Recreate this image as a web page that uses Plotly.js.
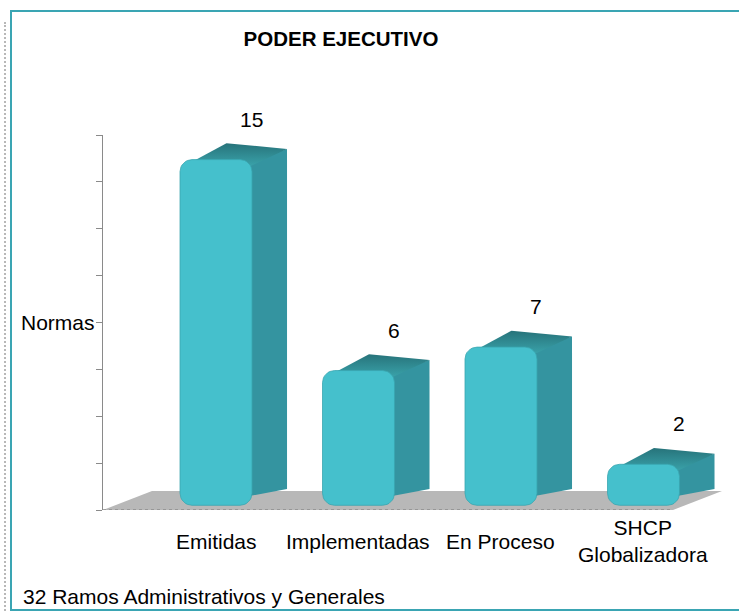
<!DOCTYPE html>
<html>
<head>
<meta charset="utf-8">
<script src="https://cdn.plot.ly/plotly-3.0.1.min.js"></script>
<style>
  html, body { margin:0; padding:0; background:#fff; }
  #wrap { position:relative; width:739px; height:612px; overflow:hidden; }
  #dots { position:absolute; left:4px; top:22px; width:0; height:600px; border-left:2px dotted #b8b8b8; }
  #frame { position:absolute; left:10px; top:10px; width:760px; height:597px; border:2px solid #3aa5b3; }
  #chart { position:absolute; left:0; top:0; width:739px; height:612px; }
</style>
</head>
<body>
<div id="wrap">
  <div id="dots"></div>
  <div id="frame"></div>
  <div id="chart"></div>
</div>
<script>
// ---- data ----
const categories = ['Emitidas', 'Implementadas', 'En Proceso', 'SHCP<br>Globalizadora'];
const values = [15, 6, 7, 2];
const yTickVals = [0, 2, 4, 6, 8, 10, 12, 14, 16];
const titleText = 'PODER EJECUTIVO';
const yTitleText = 'Normas';
const footerText = '32 Ramos Administrativos y Generales';

// ---- style constants (3D look) ----
const FONT = 'Liberation Sans, Arial, sans-serif';
const FRONT_OFFSET = 0.293, BAR_W = 0.505, BASE = 0.2, TOP_TRIM = 0.05;
const DX = 0.246, DY = 0.7;          // bar depth in axis units
const FLOOR_DX = 0.344, FLOOR_DY = 0.81;
const RX = 12 / 142.5, RY = 12 / 23.44; // corner radius in axis units
const n = categories.length;

function roundedRect(xl, xr, yb, yt) {
  const px = [], py = [];
  const corners = [
    [xr - RX, yt - RY, 0, Math.PI / 2],
    [xl + RX, yt - RY, Math.PI / 2, Math.PI],
    [xl + RX, yb + RY, Math.PI, 1.5 * Math.PI],
    [xr - RX, yb + RY, 1.5 * Math.PI, 2 * Math.PI]
  ];
  corners.forEach(([cx, cy, a0, a1]) => {
    for (let k = 0; k <= 8; k++) {
      const a = a0 + (a1 - a0) * k / 8;
      px.push(cx + RX * Math.cos(a));
      py.push(cy + RY * Math.sin(a));
    }
  });
  px.push(px[0]); py.push(py[0]);
  return {x: px, y: py};
}

const xs = values.map((v, i) => i + FRONT_OFFSET);
const traces = [];

values.forEach((v, i) => {
  const xl = xs[i] - BAR_W / 2, xr = xs[i] + BAR_W / 2, top = v - TOP_TRIM;
  // side face
  traces.push({
    type: 'scatter', mode: 'lines', hoverinfo: 'skip', showlegend: false,
    x: [xr - 0.1, xr - 0.1, xr + DX, xr + DX, xr - 0.1],
    y: [BASE + 0.3, top - 0.25, top + DY - 0.25, BASE + DY, BASE + 0.3],
    fill: 'toself', fillcolor: '#3494a0', line: {width: 0}
  });
  // top face
  traces.push({
    type: 'scatter', mode: 'lines', hoverinfo: 'skip', showlegend: false,
    x: [xl + 0.02, xr - 0.02, xr + DX, xl + DX + 0.08, xl + 0.02],
    y: [top - 0.3, top - 0.3, top + DY - 0.25, top + DY, top - 0.3],
    fill: 'toself', line: {width: 0},
    fillcolor: '#2f8890',
    fillgradient: {type: 'vertical', colorscale: [[0, '#3aa3ab'], [1, '#27737a']]}
  });
  // front face
  const rr = roundedRect(xl, xr, BASE, top);
  traces.push({
    type: 'scatter', mode: 'lines', hoverinfo: 'skip', showlegend: false,
    name: categories[i], x: rr.x, y: rr.y,
    fill: 'toself', fillcolor: '#45c0cc', line: {width: 0.8, color: '#3aa6b0'}
  });
});

const annotations = [];
values.forEach((v, i) => {
  annotations.push({
    x: xs[i] + DX, y: v - TOP_TRIM + DY, xref: 'x', yref: 'y',
    text: String(v), showarrow: false, yanchor: 'middle', yshift: 24,
    font: {family: FONT, size: 21, color: '#000'}
  });
});
categories.forEach((c, i) => {
  annotations.push({
    x: xs[i], y: 0, xref: 'x', yref: 'paper',
    text: c, showarrow: false, yanchor: 'middle', yshift: -31, align: 'center',
    font: {family: FONT, size: 21, color: '#000'}
  });
});
annotations.push({
  x: 0, y: 8, xref: 'paper', yref: 'y', text: yTitleText, showarrow: false,
  xanchor: 'right', yanchor: 'middle', xshift: -6,
  font: {family: FONT, size: 21, color: '#000'}
});
annotations.push({
  x: (20.7 - 103) / 619, y: (510 - 596) / 375, xref: 'paper', yref: 'paper',
  text: footerText, showarrow: false, xanchor: 'left', yanchor: 'middle',
  font: {family: FONT, size: 21, color: '#000'}
});

const floorPath = 'M -0.5,0 L ' + (n - 0.5) + ',0 L ' + (n - 0.5 + FLOOR_DX) + ',' + FLOOR_DY +
  ' L ' + (-0.5 + FLOOR_DX) + ',' + FLOOR_DY + ' Z';

const layout = {
  width: 739, height: 612, autosize: false,
  margin: {l: 103, r: 17, t: 135, b: 102, pad: 0},
  paper_bgcolor: 'rgba(0,0,0,0)', plot_bgcolor: 'rgba(0,0,0,0)',
  title: {
    text: '<b>' + titleText + '</b>', x: 341 / 739, xanchor: 'center',
    y: 1 - 39 / 612, yanchor: 'middle', xref: 'container', yref: 'container',
    font: {family: FONT, size: 20.5, color: '#000'}
  },
  xaxis: {range: [-0.5, n - 0.5 + FLOOR_DX], visible: false, fixedrange: true},
  yaxis: {
    range: [0, 16], tickvals: yTickVals, showticklabels: false,
    ticks: 'outside', ticklen: 6, tickcolor: '#8a8a8a', tickwidth: 1,
    showline: true, linecolor: '#8a8a8a', linewidth: 1,
    showgrid: false, zeroline: false, fixedrange: true
  },
  shapes: [
    {type: 'path', xref: 'x', yref: 'y', path: floorPath, layer: 'below',
     fillcolor: '#b8b8b8', line: {width: 0}},
    {type: 'line', xref: 'x', yref: 'y', x0: -0.5, x1: n - 0.5, y0: 0, y1: 0,
     layer: 'below', line: {color: '#8c8c8c', width: 1.5, dash: 'dot'}}
  ],
  annotations: annotations,
  showlegend: false
};

Plotly.newPlot('chart', traces, layout, {displayModeBar: false, staticPlot: true});
</script>
</body>
</html>
